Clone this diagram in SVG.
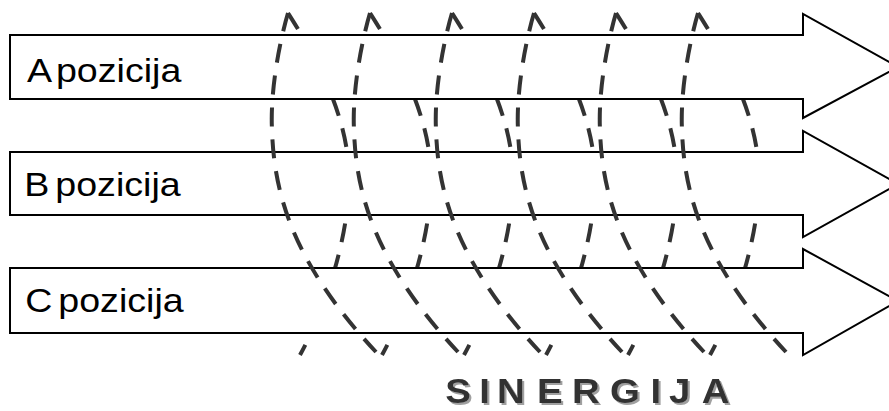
<svg xmlns="http://www.w3.org/2000/svg" xmlns:xlink="http://www.w3.org/1999/xlink" width="889" height="411" viewBox="0 0 889 411">
<style>
.arrow{fill:#fff;stroke:#000;stroke-width:2;stroke-linejoin:miter}
.dash{fill:none;stroke:#333;stroke-width:4;stroke-dasharray:19 13}
.lbl{font-family:"Liberation Sans",Arial,sans-serif;font-size:33px;fill:#000;word-spacing:-4px}
.syn{font-family:"Liberation Sans",Arial,sans-serif;font-size:35px;font-weight:bold;fill:#333}
</style>
<defs>
<path id="curveL" d="M288 13 C280 40 270 90 272 130 C274 190 290 260 376 352"/>
<path id="curveR" d="M288 13 C305 40 350 110 349 180 C349 230 330 300 300 355"/>
<filter id="shadow" x="-5%" y="-20%" width="115%" height="150%">
<feOffset in="SourceAlpha" dx="2" dy="2" result="off"/>
<feFlood flood-color="#a0a0a0"/>
<feComposite in2="off" operator="in" result="sh"/>
<feMerge><feMergeNode in="sh"/><feMergeNode in="SourceGraphic"/></feMerge>
</filter>
</defs>
<g id="connectors-back" class="dash">
<use xlink:href="#curveR" href="#curveR"/>
<use xlink:href="#curveR" href="#curveR" transform="translate(82 0)"/>
<use xlink:href="#curveR" href="#curveR" transform="translate(164 0)"/>
<use xlink:href="#curveR" href="#curveR" transform="translate(246 0)"/>
<use xlink:href="#curveR" href="#curveR" transform="translate(328 0)"/>
<use xlink:href="#curveR" href="#curveR" transform="translate(410 0)"/>
</g>
<g id="node-a">
<path class="arrow" d="M10 35 H803 V14 L898 67 L803 118 V99 H10 Z"/>
<g transform="translate(27 81.7) scale(1.14 1)"><text class="lbl" x="0" y="0">A pozicija</text></g>
</g>
<g id="node-b">
<path class="arrow" d="M10 152 H803 V131 L898 184 L803 237 V215 H10 Z"/>
<g transform="translate(27 196) scale(1.14 1)"><text class="lbl" x="-2.4" y="0">B pozicija</text></g>
</g>
<g id="node-c">
<path class="arrow" d="M10 268 H803 V249 L898 301 L803 355 V333 H10 Z"/>
<g transform="translate(27 311.7) scale(1.14 1)"><text class="lbl" x="-1.6" y="0">C pozicija</text></g>
</g>
<g id="connectors-front" class="dash">
<use xlink:href="#curveL" href="#curveL"/>
<use xlink:href="#curveL" href="#curveL" transform="translate(82 0)"/>
<use xlink:href="#curveL" href="#curveL" transform="translate(164 0)"/>
<use xlink:href="#curveL" href="#curveL" transform="translate(246 0)"/>
<use xlink:href="#curveL" href="#curveL" transform="translate(328 0)"/>
<use xlink:href="#curveL" href="#curveL" transform="translate(410 0)"/>
</g>
<g id="title" transform="scale(1.1 1)" filter="url(#shadow)">
<text class="syn" x="404.7 435.7 451.9 488.3 520.1 554.5 591.4 608.2 637.9" y="403.5">SINERGIJA</text>
</g>
</svg>
